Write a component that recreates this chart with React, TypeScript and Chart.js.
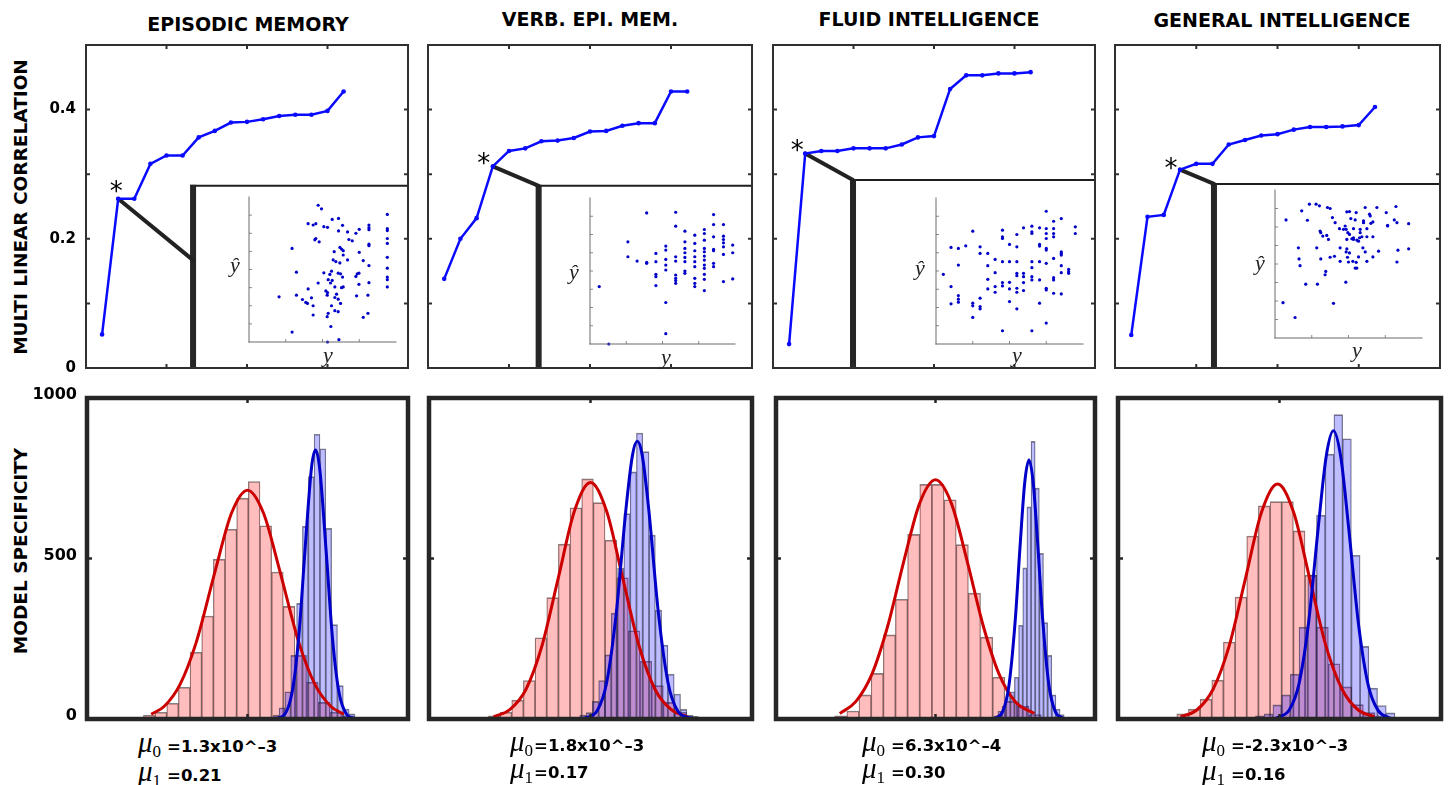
import React, { useEffect, useRef } from "react";
import { Chart, registerables } from "chart.js";

Chart.register(...registerables);

const SANS = "'DejaVu Sans', 'Noto Sans', sans-serif";
const SERIF = "'Liberation Serif', 'DejaVu Serif', serif";

// ---------------- data ----------------
const TITLES = ["EPISODIC MEMORY", "VERB. EPI. MEM.", "FLUID INTELLIGENCE", "GENERAL INTELLIGENCE"];
const FEATURE_COUNT = [1, 2, 3, 4, 5, 6, 7, 8, 9, 10, 11, 12, 13, 14, 15, 16];

const EM_CORR = [0.052, 0.262, 0.262, 0.316, 0.329, 0.329, 0.357, 0.367, 0.38, 0.381, 0.385, 0.39, 0.392, 0.392, 0.398, 0.428];
const VEM_CORR = [0.138, 0.2, 0.232, 0.312, 0.336, 0.34, 0.351, 0.352, 0.356, 0.366, 0.367, 0.375, 0.379, 0.379, 0.428, 0.428];
const FI_CORR = [0.037, 0.332, 0.336, 0.336, 0.34, 0.34, 0.34, 0.346, 0.357, 0.359, 0.432, 0.453, 0.453, 0.456, 0.456, 0.458];
const GI_CORR = [0.051, 0.234, 0.237, 0.307, 0.316, 0.316, 0.346, 0.353, 0.36, 0.362, 0.369, 0.373, 0.373, 0.374, 0.376, 0.404];
const STAR_INDEX = [1, 3, 1, 3];

// inset scatter: [y, y-hat] (standardised units, 0..44)
const EM_SCATTER = [
  [20.7, 41.5], [21.7, 40.4], [17.7, 35.9], [19.2, 35.5], [20.0, 35.9], [22.4, 35.0], [23.5, 34.8], [24.9, 37.2], [26.8, 37.5], [28.0, 35.4],
  [26.8, 33.7], [29.5, 33.4], [32.0, 33.0], [33.0, 34.2], [35.9, 35.5], [35.9, 34.7], [35.9, 34.1], [41.4, 38.7], [41.4, 34.4], [41.4, 33.8],
  [19.7, 31.0], [20.0, 31.4], [21.0, 30.4], [29.9, 31.1], [30.9, 30.7], [41.4, 31.4], [41.4, 29.9], [35.9, 29.7], [35.9, 29.2], [12.9, 28.4],
  [27.2, 28.7], [27.7, 28.2], [28.2, 27.7], [25.5, 27.4], [28.2, 26.4], [33.0, 27.2], [29.5, 24.9], [25.2, 24.9], [26.0, 24.4], [27.2, 24.0],
  [41.4, 25.7], [34.2, 24.7], [35.9, 23.2], [41.4, 22.4], [14.2, 21.2], [22.4, 21.0], [24.7, 21.5], [24.2, 20.5], [26.7, 20.9], [27.4, 20.7],
  [28.0, 19.7], [32.4, 20.7], [32.9, 20.9], [32.0, 19.9], [23.7, 18.9], [24.9, 18.7], [24.4, 17.9], [41.4, 19.7], [41.4, 18.9], [41.4, 16.7],
  [35.9, 18.0], [32.9, 17.5], [20.7, 17.9], [17.7, 16.1], [25.7, 16.7], [27.7, 16.5], [28.2, 16.7], [23.0, 15.5], [23.5, 15.0], [23.4, 14.2],
  [26.2, 14.5], [14.2, 14.2], [16.0, 12.9], [17.0, 12.0], [18.7, 13.4], [17.5, 11.7], [9.0, 13.7], [25.7, 13.5], [26.7, 13.0], [32.2, 14.0],
  [35.6, 14.2], [27.4, 11.7], [24.7, 11.0], [19.2, 11.0], [25.7, 9.5], [26.7, 9.2], [23.7, 8.7], [19.2, 8.2], [23.4, 7.7], [34.2, 7.5],
  [35.6, 8.7], [24.5, 4.7], [12.9, 3.0], [23.5, 0.0], [26.9, 0.7],
];
const VEM_SCATTER = [
  [2.8, 17.3], [5.7, 0.0], [11.5, 30.8], [11.5, 26.3], [14.3, 25.0], [17.2, 39.5], [17.2, 24.6], [17.2, 24.3], [20.0, 27.3], [20.0, 24.8],
  [20.0, 21.0], [20.0, 20.3], [20.0, 17.6], [23.0, 29.5], [23.0, 28.3], [23.0, 25.5], [23.0, 23.8], [23.0, 22.3], [23.0, 12.5], [23.0, 3.1],
  [26.0, 39.7], [26.0, 35.5], [26.0, 26.3], [26.0, 25.0], [26.0, 20.8], [26.0, 19.8], [26.0, 19.1], [26.0, 18.3], [28.8, 34.0], [28.8, 30.8],
  [28.8, 28.8], [28.8, 27.5], [28.8, 26.1], [28.8, 24.8], [28.8, 22.0], [28.8, 21.3], [31.8, 32.8], [31.8, 30.3], [31.8, 28.1], [31.8, 26.3],
  [31.8, 24.8], [31.8, 23.3], [31.8, 19.8], [31.8, 18.3], [31.8, 17.3], [34.7, 34.5], [34.7, 33.3], [34.7, 31.3], [34.7, 28.8], [34.7, 27.8],
  [34.7, 26.5], [34.7, 25.3], [34.7, 23.8], [34.7, 22.8], [34.7, 21.0], [34.7, 19.5], [34.7, 16.1], [37.5, 39.0], [37.5, 36.0], [37.5, 32.3],
  [37.5, 28.5], [37.5, 28.1], [37.5, 24.3], [37.5, 23.3], [40.5, 36.0], [40.5, 32.5], [40.5, 31.5], [40.5, 30.5], [40.5, 29.3], [40.5, 27.0],
  [40.5, 18.8], [43.3, 29.8], [43.3, 27.5], [43.3, 19.6],
];
const FI_SCATTER = [
  [33.0, 40.0], [35.2, 37.0], [37.5, 37.8], [41.7, 35.3], [41.7, 33.3], [11.0, 34.0], [19.9, 34.3], [19.9, 32.3], [19.9, 31.8], [24.2, 33.0],
  [26.2, 35.0], [28.7, 35.5], [28.7, 33.8], [28.7, 33.3], [31.0, 35.0], [33.0, 34.8], [33.0, 33.3], [33.0, 31.8], [35.2, 34.8], [35.2, 33.3],
  [35.2, 32.3], [4.5, 29.1], [6.7, 28.8], [8.9, 29.6], [13.2, 29.3], [13.2, 27.3], [15.5, 27.3], [22.0, 30.0], [24.2, 29.3], [31.0, 30.0],
  [31.0, 29.5], [33.0, 28.8], [33.0, 28.3], [35.2, 25.8], [37.5, 27.8], [37.5, 27.3], [37.5, 26.8], [6.7, 23.8], [15.5, 23.6], [17.7, 25.5],
  [19.9, 24.8], [22.0, 24.8], [24.2, 24.8], [28.7, 24.8], [28.7, 23.0], [31.0, 24.8], [33.0, 24.3], [37.5, 23.6], [39.7, 22.5], [39.7, 21.8],
  [2.2, 21.0], [17.7, 21.5], [24.2, 21.3], [24.2, 20.6], [26.2, 21.3], [26.2, 20.3], [28.7, 20.3], [28.7, 19.3], [31.0, 19.3], [35.2, 20.0],
  [35.2, 19.3], [37.5, 21.5], [39.7, 21.3], [4.5, 17.3], [15.5, 19.5], [15.5, 16.6], [17.7, 17.3], [17.7, 15.6], [19.9, 18.5], [19.9, 17.5],
  [22.0, 18.6], [22.0, 16.6], [24.2, 16.8], [24.2, 15.6], [26.2, 18.5], [26.2, 16.1], [33.0, 16.8], [33.0, 16.3], [35.2, 15.3], [37.5, 15.1],
  [4.5, 12.1], [6.7, 14.6], [6.7, 13.5], [6.7, 12.6], [11.0, 12.3], [11.0, 11.5], [13.2, 13.8], [13.2, 11.3], [13.2, 10.6], [22.0, 12.8],
  [24.2, 10.6], [31.0, 12.3], [11.0, 8.0], [19.9, 4.0], [28.7, 4.0], [33.0, 6.3],
];
const GI_SCATTER = [
  [10.3, 39.8], [12.3, 39.8], [13.3, 39.3], [15.7, 38.8], [16.5, 38.5], [8.0, 37.8], [21.5, 37.5], [22.3, 37.6], [24.3, 37.3], [27.0, 38.8],
  [30.5, 38.8], [36.2, 39.1], [3.3, 35.1], [9.7, 35.0], [17.2, 35.8], [22.7, 35.5], [24.0, 35.1], [18.0, 34.3], [26.5, 34.8], [26.5, 34.3],
  [28.3, 36.8], [28.5, 36.3], [33.3, 37.3], [35.7, 35.1], [33.7, 33.5], [33.7, 33.3], [36.5, 34.3], [40.0, 34.0], [13.5, 31.8], [13.7, 31.3],
  [19.3, 32.5], [20.5, 32.3], [21.0, 33.3], [21.3, 32.3], [23.5, 32.5], [25.5, 32.3], [27.5, 32.5], [28.7, 34.1], [29.3, 34.5], [14.3, 30.3],
  [15.5, 30.5], [21.8, 31.3], [22.3, 30.8], [23.0, 29.5], [23.5, 29.8], [25.3, 29.8], [26.0, 30.1], [25.5, 31.3], [27.5, 30.1], [29.3, 30.1],
  [16.0, 29.3], [21.5, 29.3], [23.5, 29.3], [24.5, 29.1], [25.0, 28.8], [12.5, 26.8], [19.5, 26.8], [21.5, 26.5], [21.3, 25.6], [22.3, 25.3],
  [26.3, 26.8], [27.0, 25.6], [31.0, 25.8], [36.8, 26.1], [40.0, 26.5], [7.0, 26.8], [7.2, 23.5], [7.5, 21.5], [13.7, 23.5], [16.5, 24.0],
  [17.8, 24.3], [19.5, 22.8], [21.7, 24.0], [22.0, 22.6], [23.3, 22.8], [24.3, 22.5], [25.0, 24.1], [27.5, 22.8], [29.3, 24.1], [36.5, 22.6],
  [15.2, 19.8], [15.0, 18.8], [24.0, 20.8], [24.5, 20.8], [9.2, 16.0], [12.7, 16.0], [21.2, 16.6], [2.4, 10.5], [17.5, 10.3], [6.0, 6.1],
];

// histograms (null models in red, real model in blue): first bin centre, bin width, counts
const EM_NULL_START = -0.306, EM_NULL_WIDTH = 0.0363;
const EM_NULL_COUNTS = [12, 21, 49, 99, 208, 321, 498, 591, 688, 740, 602, 458, 351, 198, 115, 52, 21, 10];
const EM_MODEL_START = 0.071, EM_MODEL_WIDTH = 0.0182;
const EM_MODEL_COUNTS = [5, 12, 35, 85, 198, 360, 600, 755, 887, 842, 594, 294, 104, 31, 16];

const VEM_NULL_START = -0.298, VEM_NULL_WIDTH = 0.0361;
const VEM_NULL_COUNTS = [10, 21, 59, 120, 253, 378, 545, 658, 748, 674, 557, 440, 275, 180, 104, 52, 21, 8];
const VEM_MODEL_START = -0.0235, VEM_MODEL_WIDTH = 0.0195;
const VEM_MODEL_COUNTS = [12, 20, 55, 120, 200, 330, 470, 640, 770, 891, 833, 573, 339, 230, 140, 78, 30, 12];

const FI_NULL_START = -0.297, FI_NULL_WIDTH = 0.0381;
const FI_NULL_COUNTS = [10, 25, 75, 142, 262, 373, 575, 731, 731, 683, 543, 392, 255, 130, 55, 40, 14];
const FI_MODEL_START = 0.189, FI_MODEL_WIDTH = 0.013;
const FI_MODEL_COUNTS = [10, 25, 40, 75, 85, 130, 292, 471, 661, 865, 719, 516, 300, 198, 75, 31, 14];

const GI_NULL_START = -0.3, GI_NULL_WIDTH = 0.0361;
const GI_NULL_COUNTS = [16, 31, 62, 121, 240, 380, 570, 664, 677, 677, 586, 448, 286, 172, 100, 45, 20, 8];
const GI_MODEL_START = -0.061, GI_MODEL_WIDTH = 0.027;
const GI_MODEL_COUNTS = [10, 16, 44, 75, 140, 286, 448, 635, 825, 948, 873, 510, 226, 96, 42, 19];

// fitted normal curves
const EM_NULL_FIT_X = [-0.3, -0.26, -0.21, -0.16, -0.1, -0.05, 0, 0.05, 0.1, 0.16, 0.21, 0.26, 0.3];
const EM_NULL_FIT_Y = [15, 39, 108, 238, 464, 641, 713, 641, 464, 238, 108, 39, 15];
const EM_MODEL_FIT_X = [0.08, 0.11, 0.14, 0.16, 0.18, 0.2, 0.212, 0.225, 0.245, 0.265, 0.285, 0.31, 0.335];
const EM_MODEL_FIT_Y = [1, 9, 89, 260, 538, 788, 838, 779, 523, 249, 83, 13, 1];

const VEM_NULL_FIT_X = [-0.3, -0.25, -0.2, -0.15, -0.1, -0.05, 0, 0.05, 0.1, 0.15, 0.2, 0.25, 0.3];
const VEM_NULL_FIT_Y = [7, 29, 92, 229, 438, 647, 737, 647, 438, 229, 92, 29, 7];
const VEM_MODEL_FIT_X = [-0.02, 0.02, 0.05, 0.08, 0.11, 0.13, 0.145, 0.16, 0.18, 0.21, 0.24, 0.27, 0.31];
const VEM_MODEL_FIT_Y = [2, 25, 113, 332, 656, 822, 865, 822, 656, 332, 113, 25, 2];

const FI_NULL_FIT_X = [-0.3, -0.25, -0.2, -0.15, -0.1, -0.05, 0, 0.05, 0.1, 0.15, 0.2, 0.25, 0.31];
const FI_NULL_FIT_Y = [17, 54, 138, 289, 489, 671, 745, 671, 489, 289, 138, 54, 17];
const FI_MODEL_FIT_X = [0.185, 0.21, 0.23, 0.25, 0.265, 0.28, 0.293, 0.306, 0.32, 0.335, 0.355, 0.375, 0.4];
const FI_MODEL_FIT_Y = [2, 22, 103, 308, 537, 739, 807, 739, 552, 323, 109, 24, 2];

const GI_NULL_FIT_X = [-0.306, -0.256, -0.206, -0.156, -0.106, -0.056, -0.006, 0.044, 0.094, 0.144, 0.194, 0.244, 0.294];
const GI_NULL_FIT_Y = [7, 28, 92, 227, 435, 643, 732, 643, 435, 227, 92, 28, 7];
const GI_MODEL_FIT_X = [-0.01, 0.03, 0.06, 0.09, 0.12, 0.145, 0.167, 0.19, 0.215, 0.245, 0.275, 0.305, 0.342];
const GI_MODEL_FIT_Y = [3, 28, 108, 300, 597, 821, 898, 814, 587, 292, 104, 27, 3];

const MU0_TEXT = ["=1.3x10^–3", "=1.8x10^–3", "=6.3x10^–4", "=-2.3x10^–3"];
const MU1_TEXT = ["=0.21", "=0.17", "=0.30", "=0.16"];

// ---------------- layout ----------------
const TOP_BOXES = [
  { l: 86, t: 45, r: 408, b: 368 },
  { l: 428, t: 45, r: 752, b: 368 },
  { l: 773, t: 45, r: 1095, b: 368 },
  { l: 1115, t: 45, r: 1440, b: 368 },
];
const BOTTOM_BOXES = [
  { l: 87, t: 398, r: 408, b: 719 },
  { l: 429, t: 398, r: 752, b: 719 },
  { l: 776, t: 398, r: 1095, b: 719 },
  { l: 1118, t: 398, r: 1441, b: 719 },
];
const INSET_AREAS = [
  { l: 249, t: 197, r: 396, b: 342 },
  { l: 590, t: 198, r: 735, b: 344 },
  { l: 936, t: 198, r: 1083, b: 344 },
  { l: 1275, t: 190, r: 1422, b: 338 },
];
// inset frame anchor, in the axes' data units
const INSET_ANCHORS = [
  { x: 6.65, y: 0.282, linkY: 0.167 },
  { x: 6.83, y: 0.282, linkY: 0.282 },
  { x: 4.97, y: 0.291, linkY: 0.291 },
  { x: 6.09, y: 0.285, linkY: 0.285 },
];
const STAR_OFFSETS = [[-2, -13], [-9, -8], [-8, -9], [-9, -7]];
const YHAT_POS = [[235, 265], [574, 272], [920, 268], [1260, 263]];
const YLAB_POS = [[328, 355], [666, 357], [1017, 355], [1357, 350]];
const TITLE_POS = [[248, 24], [590, 19], [929, 19], [1282, 20]];
const MU_POS = [[138, 742, 771, 6], [510, 741, 768, 1], [862, 741, 768, 6], [1202, 741, 770, 6]];

const CORRS = [EM_CORR, VEM_CORR, FI_CORR, GI_CORR];
const SCATTERS = [EM_SCATTER, VEM_SCATTER, FI_SCATTER, GI_SCATTER];
const HISTS = [
  { ns: EM_NULL_START, nw: EM_NULL_WIDTH, nc: EM_NULL_COUNTS, ms: EM_MODEL_START, mw: EM_MODEL_WIDTH, mc: EM_MODEL_COUNTS, nfx: EM_NULL_FIT_X, nfy: EM_NULL_FIT_Y, mfx: EM_MODEL_FIT_X, mfy: EM_MODEL_FIT_Y },
  { ns: VEM_NULL_START, nw: VEM_NULL_WIDTH, nc: VEM_NULL_COUNTS, ms: VEM_MODEL_START, mw: VEM_MODEL_WIDTH, mc: VEM_MODEL_COUNTS, nfx: VEM_NULL_FIT_X, nfy: VEM_NULL_FIT_Y, mfx: VEM_MODEL_FIT_X, mfy: VEM_MODEL_FIT_Y },
  { ns: FI_NULL_START, nw: FI_NULL_WIDTH, nc: FI_NULL_COUNTS, ms: FI_MODEL_START, mw: FI_MODEL_WIDTH, mc: FI_MODEL_COUNTS, nfx: FI_NULL_FIT_X, nfy: FI_NULL_FIT_Y, mfx: FI_MODEL_FIT_X, mfy: FI_MODEL_FIT_Y },
  { ns: GI_NULL_START, nw: GI_NULL_WIDTH, nc: GI_NULL_COUNTS, ms: GI_MODEL_START, mw: GI_MODEL_WIDTH, mc: GI_MODEL_COUNTS, nfx: GI_NULL_FIT_X, nfy: GI_NULL_FIT_Y, mfx: GI_MODEL_FIT_X, mfy: GI_MODEL_FIT_Y },
];

// ---------------- plugins ----------------
const frameTicks = {
  id: "frameTicks",
  afterDraw(chart: any, _args: any, o: any) {
    if (!o || !o.enabled) return;
    const { ctx, chartArea: a } = chart;
    const xs = chart.scales.x;
    const ys = chart.scales.y;
    const inner = (s: any) =>
      (s.ticks || []).map((t: any) => t.value).filter((v: number) => v > s.min + 1e-9 && v < s.max - 1e-9);
    ctx.save();
    ctx.strokeStyle = o.tickColor || o.color;
    ctx.lineWidth = o.tickWidth;
    ctx.lineCap = "butt";
    const L = o.tickLength;
    const ts: string[] = o.tickSides;
    ctx.beginPath();
    for (const v of inner(xs)) {
      const p = xs.getPixelForValue(v);
      if (ts.includes("bottom")) { ctx.moveTo(p, a.bottom); ctx.lineTo(p, a.bottom - L); }
      if (ts.includes("top")) { ctx.moveTo(p, a.top); ctx.lineTo(p, a.top + L); }
    }
    for (const v of inner(ys)) {
      const p = ys.getPixelForValue(v);
      if (ts.includes("left")) { ctx.moveTo(a.left, p); ctx.lineTo(a.left + L, p); }
      if (ts.includes("right")) { ctx.moveTo(a.right, p); ctx.lineTo(a.right - L, p); }
    }
    ctx.stroke();
    ctx.strokeStyle = o.color;
    ctx.lineWidth = o.lineWidth;
    const ls: string[] = o.lines;
    if (ls.length === 4) {
      ctx.lineJoin = "miter";
      ctx.strokeRect(a.left, a.top, a.right - a.left, a.bottom - a.top);
    } else {
      ctx.lineCap = "square";
      ctx.beginPath();
      if (ls.includes("left")) { ctx.moveTo(a.left, a.top); ctx.lineTo(a.left, a.bottom); }
      if (ls.includes("bottom")) { ctx.moveTo(a.left, a.bottom); ctx.lineTo(a.right, a.bottom); }
      ctx.stroke();
    }
    ctx.restore();
  },
};

const insetLink = {
  id: "insetLink",
  beforeDatasetsDraw(chart: any, _args: any, o: any) {
    if (!o || o.star == null) return;
    const { ctx, chartArea: a } = chart;
    const xs = chart.scales.x;
    const ys = chart.scales.y;
    const pt = chart.getDatasetMeta(0).data[o.star];
    const ix = xs.getPixelForValue(o.x);
    const iy = ys.getPixelForValue(o.y);
    const ly = ys.getPixelForValue(o.linkY);
    ctx.save();
    ctx.strokeStyle = "#1e1e1e";
    ctx.lineWidth = 2;
    ctx.beginPath();
    ctx.moveTo(ix - 3, iy);
    ctx.lineTo(a.right, iy);
    ctx.stroke();
    ctx.fillStyle = "#262626";
    ctx.fillRect(ix - 3, iy - 1, 6, a.bottom - iy + 1);
    ctx.strokeStyle = "#222";
    ctx.lineWidth = 4;
    ctx.lineCap = "round";
    ctx.beginPath();
    ctx.moveTo(pt.x, pt.y);
    ctx.lineTo(ix, ly);
    ctx.stroke();
    ctx.restore();
  },
  afterDatasetsDraw(chart: any, _args: any, o: any) {
    if (!o || o.star == null) return;
    const { ctx } = chart;
    const pt = chart.getDatasetMeta(0).data[o.star];
    ctx.save();
    ctx.fillStyle = "#000";
    ctx.font = `26px ${SANS}`;
    ctx.textAlign = "center";
    ctx.textBaseline = "alphabetic";
    ctx.fillText("*", pt.x + o.dx, pt.y + o.dy + 14);
    ctx.restore();
  },
};

// ---------------- chart configs ----------------
const PAD = 6;
const LABEL_W = 70;
const LABEL_PAD_T = 16;

function hideX(extra: any = {}) {
  return {
    type: "linear",
    display: true,
    ticks: { display: false, ...(extra.ticks || {}) },
    grid: { display: false, drawTicks: false },
    border: { display: false },
    afterFit: (s: any) => { s.height = 0; s.paddingLeft = 0; s.paddingRight = 0; },
    ...extra,
  };
}

function topConfig(i: number) {
  const corr = CORRS[i];
  const anchor = INSET_ANCHORS[i];
  const padL = i === 0 ? LABEL_W : PAD;
  return {
    type: "line",
    data: {
      datasets: [{
        data: corr.map((v, k) => ({ x: FEATURE_COUNT[k], y: v })),
        borderColor: "#0a0aff",
        backgroundColor: "#0a0aff",
        borderWidth: 2.5,
        pointRadius: 2.3,
        pointBorderWidth: 0,
        pointBackgroundColor: "#0a0aff",
        tension: 0,
      }],
    },
    options: {
      responsive: false,
      animation: false,
      events: [],
      layout: { padding: { left: 0, right: PAD, top: PAD, bottom: PAD } },
      plugins: {
        legend: { display: false },
        tooltip: { enabled: false },
        frameTicks: { enabled: true, color: "#303030", lineWidth: 2, tickWidth: 2, tickLength: 4, lines: ["left", "right", "top", "bottom"], tickSides: ["left", "right", "top", "bottom"] },
        insetLink: { star: STAR_INDEX[i], x: anchor.x, y: anchor.y, linkY: anchor.linkY, dx: STAR_OFFSETS[i][0], dy: STAR_OFFSETS[i][1] },
      },
      scales: {
        x: hideX({ min: 0, max: 20, ticks: { display: false, stepSize: 5 } }),
        y: {
          min: 0,
          max: 0.5,
          ticks: {
            display: i === 0,
            stepSize: 0.1,
            padding: 10,
            color: "#000",
            font: { family: SANS, size: 15, weight: "bold" },
            callback: (v: number) => {
              const r = Math.round(v * 10);
              if (r % 2 !== 0) return "";
              return r === 0 ? "0" : (r / 10).toFixed(1);
            },
          },
          grid: { display: false, drawTicks: false },
          border: { display: false },
          afterFit: (s: any) => { s.width = padL; s.paddingTop = 0; s.paddingBottom = 0; },
        },
      },
    },
    plugins: [frameTicks, insetLink],
  };
}

function insetConfig(i: number) {
  const pts = SCATTERS[i];
  return {
    type: "scatter",
    data: {
      datasets: [{
        data: pts.map((p) => ({ x: p[0], y: p[1] })),
        pointRadius: 1.6,
        pointBorderWidth: 0,
        pointBackgroundColor: "#0000c8",
        clip: false,
      }],
    },
    options: {
      responsive: false,
      animation: false,
      events: [],
      layout: { padding: 4 },
      plugins: {
        legend: { display: false },
        tooltip: { enabled: false },
        frameTicks: { enabled: true, color: "#6a6a6a", tickColor: "#8a8a8a", lineWidth: 1, tickWidth: 1, tickLength: 3, lines: ["left", "bottom"], tickSides: ["left", "bottom"] },
      },
      scales: {
        x: hideX({ min: 0, max: 44, ticks: { display: false, stepSize: 11 } }),
        y: {
          min: 0,
          max: 44,
          ticks: { display: false, stepSize: 5.5 },
          grid: { display: false, drawTicks: false },
          border: { display: false },
          afterFit: (s: any) => { s.width = 0; s.paddingTop = 0; s.paddingBottom = 0; },
        },
      },
    },
    plugins: [frameTicks],
  };
}

function bottomConfig(i: number) {
  const h = HISTS[i];
  const padL = i === 0 ? LABEL_W : PAD;
  const padT = i === 0 ? LABEL_PAD_T : PAD;
  const barBorder = { top: 1, left: 0.6, right: 0.6, bottom: 0 };
  return {
    type: "bar",
    data: {
      datasets: [
        {
          type: "line",
          data: h.mfx.map((x, k) => ({ x, y: h.mfy[k] })),
          xAxisID: "x",
          borderColor: "#0000c8",
          borderWidth: 3,
          pointRadius: 0,
          cubicInterpolationMode: "monotone",
          order: 1,
        },
        {
          type: "line",
          data: h.nfx.map((x, k) => ({ x, y: h.nfy[k] })),
          xAxisID: "x",
          borderColor: "#cc0000",
          borderWidth: 3,
          pointRadius: 0,
          cubicInterpolationMode: "monotone",
          order: 2,
        },
        {
          type: "bar",
          data: h.mc.map((c, k) => ({ x: h.ms + k * h.mw, y: c })),
          xAxisID: "x2",
          backgroundColor: "rgba(0,0,255,0.26)",
          borderColor: "rgba(30,30,30,0.55)",
          borderWidth: barBorder,
          borderSkipped: false,
          barPercentage: 1,
          categoryPercentage: 1,
          grouped: false,
          order: 3,
        },
        {
          type: "bar",
          data: h.nc.map((c, k) => ({ x: h.ns + k * h.nw, y: c })),
          xAxisID: "x",
          backgroundColor: "rgba(255,0,0,0.26)",
          borderColor: "rgba(30,30,30,0.55)",
          borderWidth: barBorder,
          borderSkipped: false,
          barPercentage: 1,
          categoryPercentage: 1,
          grouped: false,
          order: 4,
        },
      ],
    },
    options: {
      responsive: false,
      animation: false,
      events: [],
      layout: { padding: { left: 0, right: PAD, top: padT, bottom: PAD } },
      plugins: {
        legend: { display: false },
        tooltip: { enabled: false },
        frameTicks: { enabled: true, color: "#262626", lineWidth: 4.5, tickWidth: 2.5, tickLength: 5, lines: ["left", "right", "top", "bottom"], tickSides: ["left", "right", "top", "bottom"] },
      },
      scales: {
        x: hideX({ min: -0.5, max: 0.5, offset: false, ticks: { display: false, stepSize: 0.5 } }),
        x2: hideX({ min: -0.5, max: 0.5, offset: false, position: "bottom", ticks: { display: false, stepSize: 0.5 } }),
        y: {
          min: 0,
          max: 1000,
          ticks: {
            display: i === 0,
            stepSize: 500,
            padding: 10,
            labelOffset: -3,
            color: "#000",
            font: { family: SANS, size: 16, weight: "bold" },
            callback: (v: number) => String(Math.round(v)),
          },
          grid: { display: false, drawTicks: false },
          border: { display: false },
          afterFit: (s: any) => { s.width = padL; s.paddingTop = 0; s.paddingBottom = 0; },
        },
      },
    },
    plugins: [frameTicks],
  };
}

// ---------------- components ----------------
function ChartCanvas({ left, top, width, height, make }: { left: number; top: number; width: number; height: number; make: () => any }) {
  const ref = useRef<HTMLCanvasElement | null>(null);
  useEffect(() => {
    if (!ref.current) return;
    const chart = new Chart(ref.current, make());
    return () => chart.destroy();
  }, []);
  return (
    <canvas
      ref={ref}
      width={width}
      height={height}
      style={{ position: "absolute", left, top, width, height }}
    />
  );
}

function MuLabel({ x, y, sub, gap, text }: { x: number; y: number; sub: string; gap: number; text: string }) {
  return (
    <div style={{ position: "absolute", left: x, top: y - 17, height: 34, lineHeight: "34px", whiteSpace: "nowrap", color: "#000" }}>
      <span style={{ fontFamily: SERIF, fontStyle: "italic", fontSize: 29 }}>μ</span>
      <span style={{ fontFamily: SERIF, fontSize: 17, position: "relative", top: 5 }}>{sub}</span>
      <span style={{ fontFamily: SANS, fontWeight: "bold", fontSize: 16.5, marginLeft: gap }}>{text}</span>
    </div>
  );
}

export default function App() {
  return (
    <div style={{ position: "absolute", left: 0, top: 0, width: 1448, height: 785, background: "#fff", overflow: "hidden", fontFamily: SANS }}>
      {TITLES.map((t, i) => (
        <div key={"t" + i} style={{ position: "absolute", left: TITLE_POS[i][0], top: TITLE_POS[i][1], transform: "translate(-50%,-50%)", fontWeight: "bold", fontSize: 19, whiteSpace: "nowrap", color: "#000" }}>{t}</div>
      ))}
      <div style={{ position: "absolute", left: 20, top: 207, transform: "translate(-50%,-50%) rotate(-90deg)", fontWeight: "bold", fontSize: 18.5, whiteSpace: "nowrap" }}>MULTI LINEAR CORRELATION</div>
      <div style={{ position: "absolute", left: 20, top: 551, transform: "translate(-50%,-50%) rotate(-90deg)", fontWeight: "bold", fontSize: 18.5, whiteSpace: "nowrap" }}>MODEL SPECIFICITY</div>

      {TOP_BOXES.map((b, i) => {
        const padL = i === 0 ? LABEL_W : PAD;
        return (
          <ChartCanvas key={"top" + i} left={b.l - padL} top={b.t - PAD} width={b.r - b.l + padL + PAD} height={b.b - b.t + 2 * PAD} make={() => topConfig(i)} />
        );
      })}
      {INSET_AREAS.map((b, i) => (
        <ChartCanvas key={"in" + i} left={b.l - 4} top={b.t - 4} width={b.r - b.l + 8} height={b.b - b.t + 8} make={() => insetConfig(i)} />
      ))}
      {YHAT_POS.map((p, i) => (
        <div key={"yh" + i} style={{ position: "absolute", left: p[0], top: p[1], transform: "translate(-50%,-50%)", fontFamily: SERIF, fontStyle: "italic", fontSize: 22, color: "#222" }}>ŷ</div>
      ))}
      {YLAB_POS.map((p, i) => (
        <div key={"yl" + i} style={{ position: "absolute", left: p[0], top: p[1], transform: "translate(-50%,-50%)", fontFamily: SERIF, fontStyle: "italic", fontSize: 22, color: "#222" }}>y</div>
      ))}

      {BOTTOM_BOXES.map((b, i) => {
        const padL = i === 0 ? LABEL_W : PAD;
        const padT = i === 0 ? LABEL_PAD_T : PAD;
        return (
          <ChartCanvas key={"bot" + i} left={b.l - padL} top={b.t - padT} width={b.r - b.l + padL + PAD} height={b.b - b.t + padT + PAD} make={() => bottomConfig(i)} />
        );
      })}
      {MU_POS.map((m, i) => (
        <React.Fragment key={"mu" + i}>
          <MuLabel x={m[0]} y={m[1]} sub="0" gap={m[3]} text={MU0_TEXT[i]} />
          <MuLabel x={m[0]} y={m[2]} sub="1" gap={m[3]} text={MU1_TEXT[i]} />
        </React.Fragment>
      ))}
    </div>
  );
}
